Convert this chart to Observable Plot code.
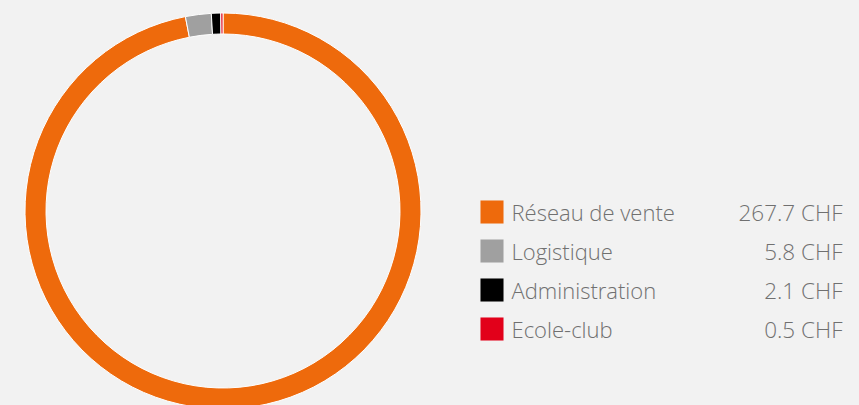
<!DOCTYPE html>
<html>
<head>
<meta charset="utf-8">
<script src="https://cdn.jsdelivr.net/npm/d3@7"></script>
<script src="https://cdn.jsdelivr.net/npm/@observablehq/plot@0.6"></script>
<style>
  html, body { margin: 0; padding: 0; background: #f2f2f2; }
  #chart { width: 859px; height: 405px; overflow: hidden; }
</style>
</head>
<body>
<div id="chart"></div>
<script>
const categories = ["Réseau de vente", "Logistique", "Administration", "Ecole-club"];
const values = [267.7, 5.8, 2.1, 0.5];
const valueLabels = ["267.7 CHF", "5.8 CHF", "2.1 CHF", "0.5 CHF"];
const colors = ["#ee6a0c", "#a0a0a0", "#000000", "#e2001a"];

const data = categories.map((c, i) => ({category: c, value: values[i], label: valueLabels[i]}));

const donut = (index, scales, vals, dimensions) => {
  const g = d3.create("svg:g");
  const arcs = d3.pie().sort(null).value(d => d.value)(data);
  const arc = d3.arc().innerRadius(177).outerRadius(198);
  g.attr("transform", "translate(223,211)")
    .selectAll("path")
    .data(arcs)
    .join("path")
    .attr("d", arc)
    .attr("fill", d => scales.color(d.data.category))
    .attr("stroke", "#ffffff")
    .attr("stroke-width", 1);
  return g.node();
};

const font = "Open Sans, sans-serif";
const chart = Plot.plot({
  width: 859,
  height: 405,
  margin: 0,
  style: {background: "#f2f2f2", fontFamily: font},
  y: {type: "band", domain: categories, range: [192, 353], axis: null},
  color: {domain: categories, range: colors},
  marks: [
    donut,
    Plot.dot(data, {y: "category", fill: "category", symbol: "square", r: 13, frameAnchor: "left", dx: 491.5, dy: -2}),
    Plot.text(data, {y: "category", text: "category", frameAnchor: "left", dx: 511, textAnchor: "start", fill: "#707070", fontSize: 22, fontWeight: 300}),
    Plot.text(data, {y: "category", text: "label", frameAnchor: "left", dx: 842, textAnchor: "end", fill: "#707070", fontSize: 22.5, fontWeight: 300})
  ]
});
document.getElementById("chart").appendChild(chart);
</script>
</body>
</html>
